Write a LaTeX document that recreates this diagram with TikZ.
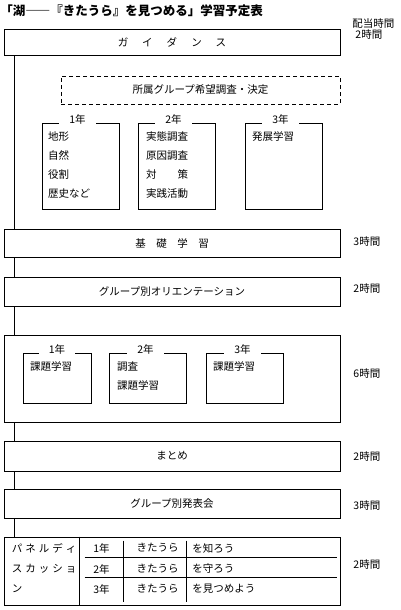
\documentclass[tikz,border=0pt]{standalone}
\usepackage{fontspec}
\setmainfont{Noto Sans CJK JP}
\usetikzlibrary{positioning, calc}
\newcommand{\jptext}{\fontsize{10.5}{12}\selectfont}
\tikzset{
  stage/.style={rectangle, draw, minimum width=336pt, inner sep=0pt, font=\jptext},
  gradebox/.style={rectangle, draw, inner sep=0pt},
  gradetag/.style={fill=white, inner xsep=10pt, inner ysep=1pt, font=\jptext},
  items/.style={anchor=north west, inner sep=0pt, align=left,
    font=\fontsize{10.5}{19}\selectfont},
  hours/.style={anchor=west, inner sep=0pt, font=\jptext},
  cell/.style={inner sep=0pt, font=\jptext},
  spine/.style={line width=1pt},
}

\begin{document}
\begin{tikzpicture}[x=1pt, y=-1pt, line width=0.9pt]
  \useasboundingbox (0,0) rectangle (400,610);

  % title and header
  \node[anchor=west, inner sep=0pt, font=\fontsize{12.5}{14}\selectfont\bfseries] (title) at (0,11)
    {「湖――『きたうら』を見つめる」学習予定表};
  \node[anchor=west, inner sep=0pt, align=left, font=\fontsize{10.5}{10.5}\selectfont] (hdr) at (352,29)
    {配当時間\\\hspace{3pt}2時間};

  % stages
  \node[stage, minimum height=26pt] (guide) at (172,42)
    {ガ\hspace{14pt}イ\hspace{14pt}ダ\hspace{14pt}ン\hspace{14pt}ス};
  \node[stage, minimum height=28pt] (kiso) at (172,243) {基　礎　学　習};
  \node[stage, minimum height=29pt] (orient) at (172,291.5) {グループ別オリエンテーション};
  \node[stage, minimum height=87pt] (kadai) at (172,378.5) {};
  \node[stage, minimum height=30pt] (matome) at (172,456) {まとめ};
  \node[stage, minimum height=29pt] (happyo) at (172,503.5) {グループ別発表会};
  \node[stage, minimum height=68pt] (panel) at (172,571) {};

  \foreach \a/\b in {guide/kiso, kiso/orient, orient/kadai, kadai/matome, matome/happyo, happyo/panel}
    \draw[spine] ([xshift=11pt]\a.south west) -- ([xshift=11pt]\b.north west);

  % hours
  \node[hours] (h1) at (353,242) {3時間};
  \node[hours] (h2) at (353,289) {2時間};
  \node[hours] (h3) at (353,374) {6時間};
  \node[hours] (h4) at (353,457) {2時間};
  \node[hours] (h5) at (353,506) {3時間};
  \node[hours] (h6) at (353,565) {2時間};

  % grouping survey
  \node[stage, dashed, dash pattern=on 4pt off 3pt, minimum width=279pt, minimum height=28pt] (shozoku)
    at (200.5,90) {所属グループ希望調査・決定};

  % first grade boxes
  \node[gradebox, minimum width=77pt, minimum height=86pt] (ga) at (80.5,166) {};
  \node[gradebox, minimum width=77pt, minimum height=86pt] (gb) at (176.5,166) {};
  \node[gradebox, minimum width=77pt, minimum height=86pt] (gc) at (283.5,166) {};
  \node[gradetag] (gat) at ([shift={(-3,-3)}]ga.north) {1年};
  \node[gradetag] (gbt) at ([shift={(-3,-3)}]gb.north) {2年};
  \node[gradetag] (gct) at ([shift={(-3,-3)}]gc.north) {3年};
  \node[items] (gai) at ([shift={(6,9)}]ga.north west) {地形\\自然\\役割\\歴史など};
  \node[items] (gbi) at ([shift={(8,9)}]gb.north west) {実態調査\\原因調査\\対　　策\\実践活動};
  \node[items] (gci) at ([shift={(7,9)}]gc.north west) {発展学習};

  % task study boxes
  \node[gradebox, minimum width=68pt, minimum height=50pt] (ka) at (57,378) {};
  \node[gradebox, minimum width=77pt, minimum height=50pt] (kb) at (147.5,378) {};
  \node[gradebox, minimum width=77pt, minimum height=50pt] (kc) at (244.5,378) {};
  \node[gradetag] (kat) at ([shift={(0,-3)}]ka.north) {1年};
  \node[gradetag] (kbt) at ([shift={(-2,-3)}]kb.north) {2年};
  \node[gradetag] (kct) at ([shift={(-2,-3)}]kc.north) {3年};
  \node[items] (kai) at ([shift={(7,9)}]ka.north west) {課題学習};
  \node[items] (kbi) at ([shift={(8,9)}]kb.north west) {調査\\課題学習};
  \node[items] (kci) at ([shift={(7,9)}]kc.north west) {課題学習};

  % panel discussion table
  \node[items, font=\fontsize{10.5}{20}\selectfont] (pd) at ([shift={(8,7)}]panel.north west)
    {パ\hspace{3pt}ネ\hspace{3pt}ル\hspace{3pt}デ\hspace{3pt}ィ\\ス\hspace{3pt}カ\hspace{3pt}ッ\hspace{3pt}シ\hspace{3pt}ョ\\ン};
  \draw ([xshift=76pt]panel.north west) -- ([xshift=76pt]panel.south west);
  \draw ([shift={(81,21)}]panel.north west) -- ([shift={(333,21)}]panel.north west);
  \draw ([shift={(81,41)}]panel.north west) -- ([shift={(333,41)}]panel.north west);
  \draw ([shift={(120,4)}]panel.north west) -- ([shift={(120,-3)}]panel.south west);
  \draw ([shift={(183,4)}]panel.north west) -- ([shift={(183,-3)}]panel.south west);
  \foreach \yy/\yr/\ph [count=\i] in {548/1年/を知ろう, 569/2年/を守ろう, 589/3年/を見つめよう} {
    \node[cell] (yr\i) at (101.5,\yy) {\yr};
    \node[cell] (kt\i) at (157.5,\yy) {きたうら};
    \node[cell, anchor=west] (ph\i) at (192,\yy) {\ph};
  }
\end{tikzpicture}
\end{document}
